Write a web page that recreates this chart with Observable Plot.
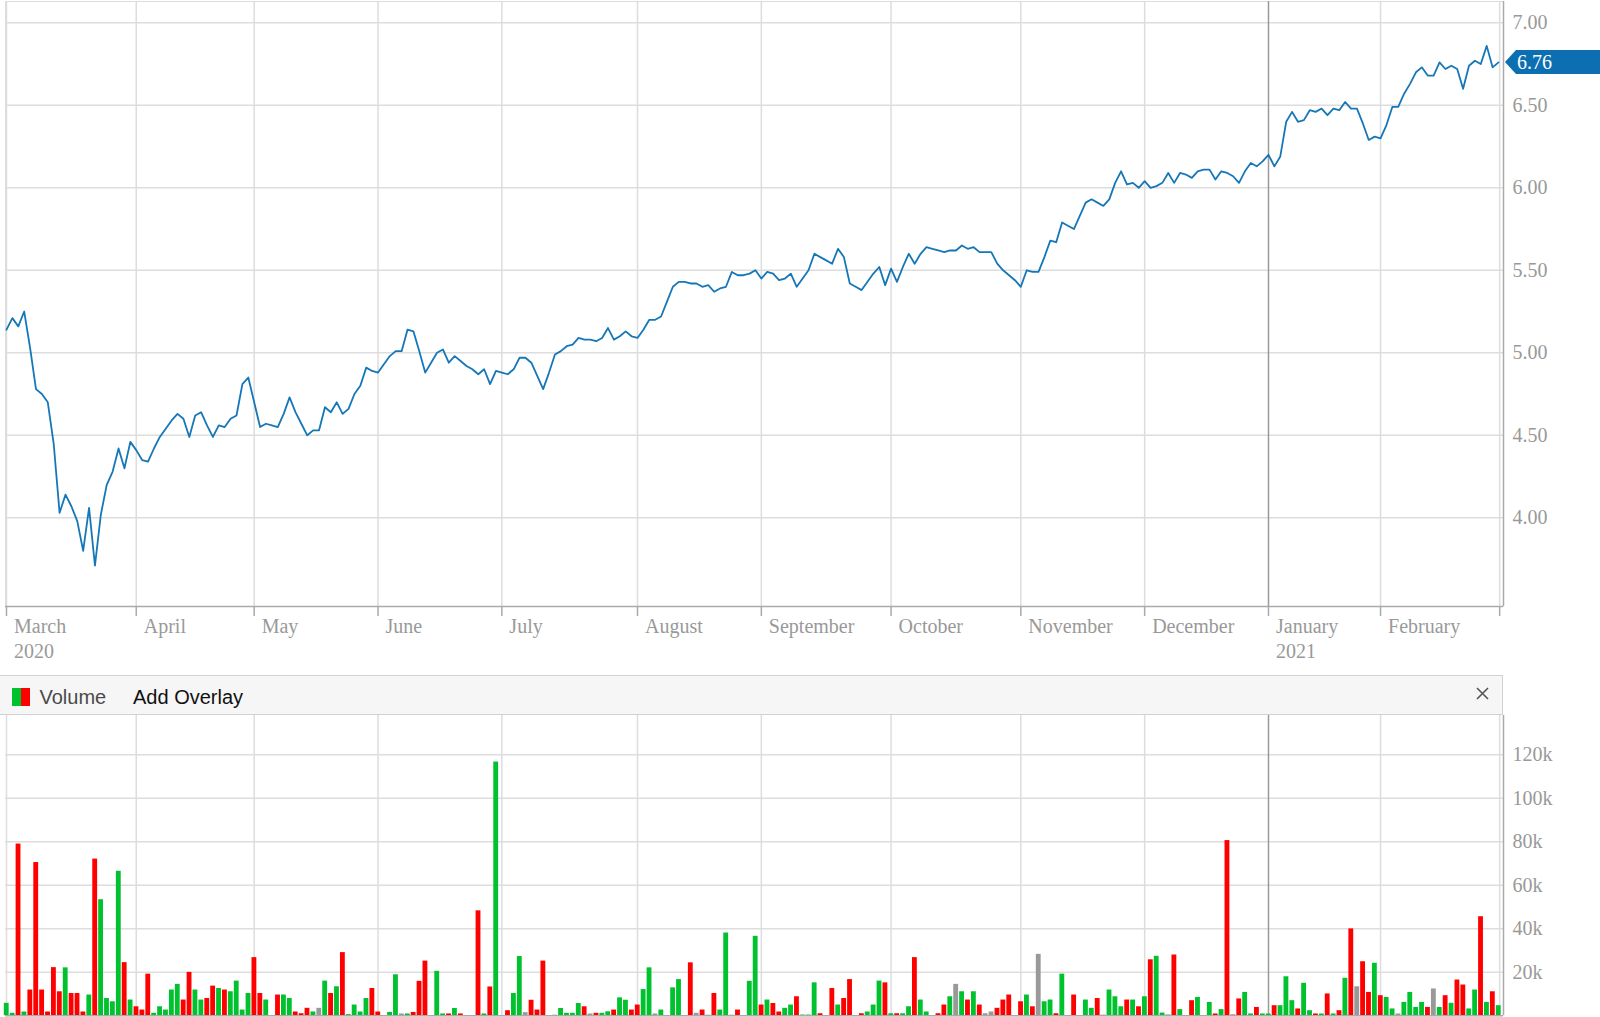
<!DOCTYPE html>
<html>
<head>
<meta charset="utf-8">
<script src="https://cdn.jsdelivr.net/npm/d3@7"></script>
<script src="https://cdn.jsdelivr.net/npm/@observablehq/plot@0.6"></script>
<style>
html, body { margin: 0; padding: 0; background: #fff; overflow: hidden; }
#wrap { position: relative; width: 1600px; height: 1017px; }
#wrap svg { display: block; }
#hdr { position: relative; width: 1502px; height: 38px; background: #f6f6f6;
  border-top: 1px solid #d2d2d2; border-bottom: 1px solid #d2d2d2; border-right: 1px solid #d2d2d2;
  font-family: "Liberation Sans", Arial, sans-serif; font-size: 20px; }
#hdr .ico { position: absolute; left: 12px; top: 12px; width: 18px; height: 18px; display: flex; }
#hdr .ico span { display: block; width: 9px; height: 18px; }
#hdr .lab { position: absolute; top: 11px; line-height: 20px; white-space: nowrap; }
#hdr svg.close { position: absolute; left: 1476px; top: 11px; }
</style>
</head>
<body>
<div id="wrap">
  <div id="top"></div>
  <div id="hdr">
    <div class="ico"><span style="background:#00c12e"></span><span style="background:#ff0000"></span></div>
    <span class="lab" style="left:39.5px;color:#4a4a4a">Volume</span>
    <span class="lab" style="left:133px;color:#111">Add Overlay</span>
    <svg class="close" width="13" height="13" viewBox="0 0 13 13"><path d="M1,1L12,12M12,1L1,12" stroke="#555" stroke-width="1.6" fill="none"/></svg>
  </div>
  <div id="vol"></div>
</div>
<script>
// ---------- DATA ----------
// daily closing prices, one per trading day (Mar 2020 - Feb 2021)
const price = [
  5.14,5.21,5.16,5.25,5.03,4.78,4.75,4.70,4.45,4.03,
  4.14,4.07,3.98,3.80,4.06,3.71,4.02,4.20,4.28,4.42,
  4.30,4.46,4.41,4.35,4.34,4.42,4.49,4.54,4.59,4.63,
  4.60,4.49,4.62,4.64,4.56,4.49,4.56,4.55,4.60,4.62,
  4.81,4.85,4.70,4.55,4.57,4.56,4.55,4.63,4.73,4.64,
  4.57,4.50,4.53,4.53,4.67,4.64,4.70,4.63,4.66,4.75,
  4.80,4.91,4.89,4.88,4.93,4.98,5.01,5.01,5.14,5.13,
  5.01,4.88,4.94,5.00,5.02,4.94,4.98,4.95,4.92,4.90,
  4.87,4.90,4.81,4.89,4.88,4.87,4.90,4.97,4.97,4.94,
  4.86,4.78,4.88,4.99,5.01,5.04,5.05,5.09,5.08,5.08,
  5.07,5.09,5.15,5.08,5.10,5.13,5.10,5.09,5.14,5.20,
  5.20,5.22,5.31,5.40,5.43,5.43,5.42,5.42,5.40,5.41,
  5.37,5.39,5.40,5.49,5.47,5.47,5.48,5.50,5.45,5.49,
  5.48,5.44,5.45,5.48,5.40,5.45,5.50,5.60,5.58,5.56,
  5.54,5.63,5.58,5.42,5.40,5.38,5.43,5.48,5.52,5.41,
  5.51,5.43,5.52,5.60,5.54,5.60,5.64,5.63,5.62,5.61,
  5.62,5.62,5.65,5.63,5.64,5.61,5.61,5.61,5.54,5.50,
  5.47,5.44,5.40,5.50,5.49,5.49,5.58,5.68,5.67,5.79,
  5.77,5.75,5.83,5.91,5.93,5.91,5.89,5.93,6.03,6.10,
  6.02,6.03,6.00,6.04,6.00,6.01,6.03,6.09,6.03,6.09,
  6.08,6.06,6.10,6.11,6.11,6.05,6.10,6.09,6.07,6.03,
  6.10,6.15,6.13,6.16,6.20,6.13,6.19,6.40,6.46,6.40,
  6.41,6.47,6.46,6.48,6.44,6.48,6.47,6.52,6.48,6.48,
  6.39,6.29,6.31,6.30,6.38,6.49,6.49,6.57,6.63,6.70,
  6.73,6.68,6.68,6.76,6.72,6.74,6.72,6.60,6.74,6.77,
  6.75,6.86,6.73,6.76
];
// daily volume in thousands
const volumeK = [
  5.7,1.1,78.9,1.7,11.8,70.4,11.8,1.7,22.1,11.0,
  22.0,10.2,10.2,1.7,9.5,72.0,53.3,7.9,6.4,66.4,
  24.4,7.2,4.1,2.6,19.1,1.1,4.1,2.6,11.8,14.4,
  7.2,19.9,11.8,7.2,7.9,13.6,12.5,11.8,11.0,15.9,
  2.6,10.2,26.7,10.2,7.2,0,9.5,9.5,7.9,1.7,
  0.9,3.4,1.7,3.4,15.9,10.2,13.3,29.0,0.5,4.9,
  1.7,7.9,12.5,1.7,0,1.5,18.8,0.8,0.8,1.5,
  15.8,25.1,0,20.4,0.8,0.8,3.3,0.8,0,0,
  48.2,0.8,13.2,116.6,0,2.3,10.2,27.2,1.4,7.1,
  2.6,25.1,0,0.2,3.3,1.1,1.1,5.6,4.1,0.8,
  1.1,1.1,1.8,2.6,8.2,7.1,2.6,4.9,12.0,22.0,
  0.8,2.6,0,12.8,16.6,0,24.3,1.1,2.6,0.2,
  10.2,2.6,38.0,0.2,2.6,0,15.8,36.5,4.9,7.2,
  5.6,1.7,3.4,4.9,8.7,0.3,0.3,15.1,0.9,0,
  12.5,4.9,7.9,16.6,0,0.9,1.7,4.9,15.9,15.1,
  0.9,0.9,0.9,4.1,26.7,7.2,1.7,0,0.9,4.9,
  8.7,14.4,11.0,7.2,11.0,4.9,0.9,1.7,3.4,7.2,
  9.5,0,6.4,9.5,4.1,28.2,6.4,7.2,0.9,19.1,
  0,9.5,0,7.2,3.4,7.9,0.2,11.8,8.7,4.1,
  7.2,7.2,4.1,8.7,25.7,27.3,1.2,0.3,27.9,2.8,
  0,6.9,8.4,0,6.1,0.8,2.8,80.5,0.3,7.7,
  10.7,0.8,3.8,0.8,0.8,4.6,4.6,17.9,6.9,3.1,
  14.9,2.3,0.8,0.8,10.0,0.8,2.3,17.2,39.9,13.3,
  24.8,10.7,24.1,9.2,8.4,3.1,0.8,6.1,10.7,3.8,
  6.1,3.8,12.3,3.8,9.2,5.7,16.4,14.1,3.1,11.8,
  45.5,6.1,11.0,4.6
];
// bar direction: u = up (green), d = down (red), n = unchanged (gray)
const direction = [
  "u","u","d","u","d","d","d","d","d","d",
  "u","d","d","d","u","d","u","u","u","u",
  "d","u","d","d","d","u","u","u","u","u",
  "d","d","u","u","d","d","u","d","u","u",
  "u","u","d","d","u","n","d","u","u","d",
  "d","d","u","n","u","d","u","d","u","u",
  "u","u","d","d","n","u","u","n","u","d",
  "d","d","n","u","u","d","u","d","n","n",
  "d","u","d","u","n","d","u","u","n","d",
  "d","d","n","u","u","u","u","u","d","n",
  "d","u","u","d","u","u","d","d","u","u",
  "n","u","n","u","u","n","d","n","d","u",
  "d","u","u","u","d","n","u","u","d","u",
  "d","d","u","u","d","u","u","u","d","n",
  "d","u","d","d","n","d","u","u","u","d",
  "u","d","u","u","d","u","u","n","d","d",
  "u","n","u","d","u","d","n","n","d","d",
  "d","n","d","u","d","n","u","u","d","u",
  "n","d","n","u","u","d","d","u","u","u",
  "d","u","d","u","d","u","u","u","d","u",
  "n","d","u","n","u","d","u","d","d","d",
  "u","u","d","u","u","d","u","u","u","d",
  "u","u","d","u","d","u","d","u","d","n",
  "d","d","u","d","u","u","n","u","u","u",
  "u","d","n","u","d","u","d","d","u","u",
  "d","u","d","u"
];
const monthNames = ["March","April","May","June","July","August","September","October","November","December","January","February"];
const yearLabels = ["2020","","","","","","","","","","2021",""];
const monthStart = [0,22,42,63,84,107,128,150,172,193,214,233];
const endLine = [253.2];
const priceTicks = [4.00,4.50,5.00,5.50,6.00,6.50,7.00];
const volumeTicksK = [20,40,60,80,100,120];

// ---------- CHART ----------
const W = 1600;
const idx = d3.range(price.length);
const xDomain = [-0.17, 253.85];
const priceDomain = [3.4624, 7.129];
const volDomain = [0, 138.0];
const gridCol = "#dddddd", darkCol = "#9a9a9a", borderCol = "#aaaaaa", textCol = "#999999";
const serif = "'Liberation Serif', 'Times New Roman', serif";

const labelMap = new Map(monthStart.map((m, i) => [m, yearLabels[i] ? monthNames[i] + "\n" + yearLabels[i] : monthNames[i]]));
const lightGrid = monthStart.filter((m, i) => !(yearLabels[i] && i > 0)).concat(endLine);
const darkGrid = monthStart.filter((m, i) => yearLabels[i] && i > 0);
const allTicks = monthStart.concat(endLine);

const topChart = Plot.plot({
  width: W, height: 675,
  marginLeft: 5, marginRight: 97, marginTop: 1, marginBottom: 69,
  style: { fontFamily: serif, fontSize: "20px", background: "white", overflow: "visible" },
  x: { domain: xDomain, axis: null },
  y: { domain: priceDomain, axis: null },
  marks: [
    Plot.frame({ stroke: gridCol, strokeWidth: 1 }),
    Plot.gridY(priceTicks, { stroke: gridCol, strokeOpacity: 1, strokeWidth: 1.5 }),
    Plot.ruleX(lightGrid, { stroke: gridCol, strokeWidth: 1.5 }),
    Plot.ruleX(darkGrid, { stroke: darkCol, strokeWidth: 1.5 }),
    Plot.ruleY([priceDomain[0]], { stroke: borderCol, strokeWidth: 1.5 }),
    Plot.ruleX([xDomain[1]], { stroke: borderCol, strokeWidth: 1.5 }),
    Plot.axisY(priceTicks, { anchor: "right", tickSize: 0, tickPadding: 9, tickFormat: d3.format(".2f"),
      fontSize: 20, fill: textCol }),
    // tick marks below the axis line
    Plot.axisX(allTicks, { anchor: "bottom", tickSize: 10, stroke: borderCol, strokeWidth: 1.5,
      tickFormat: () => "" }),
    // month / year labels
    Plot.axisX(monthStart, { anchor: "bottom", tickSize: 0, tickPadding: 8,
      tickFormat: d => labelMap.get(d) ?? "", textAnchor: "start", dx: 7.5, lineAnchor: "top",
      lineHeight: 1.28, fontSize: 20, fill: textCol }),
    Plot.line(idx, { x: i => i, y: i => price[i], stroke: "#1677b8", strokeWidth: 1.8 })
  ]
});
document.getElementById("top").appendChild(topChart);

// last-price tag
{
  const last = price[price.length - 1];
  const ty = topChart.scale("y").apply(last);
  const tx = topChart.scale("x").range[1];
  const g = d3.select(topChart).append("g");
  g.append("path")
    .attr("d", `M${tx + 2},${ty} L${tx + 13},${ty - 12} L${W},${ty - 12} L${W},${ty + 12} L${tx + 13},${ty + 12} Z`)
    .attr("fill", "#0b6fb1");
  g.append("text").attr("x", tx + 14).attr("y", ty).attr("dy", "0.34em")
    .attr("text-anchor", "start")
    .attr("fill", "white").attr("font-family", serif).attr("font-size", 20)
    .text(d3.format(".2f")(last));
}

const volChart = Plot.plot({
  width: W, height: 302,
  marginLeft: 5, marginRight: 97, marginTop: 0, marginBottom: 1.8,
  style: { fontFamily: serif, fontSize: "20px", background: "white", overflow: "visible" },
  x: { domain: xDomain, axis: null },
  y: { domain: volDomain, axis: null },
  color: { domain: ["u", "d", "n"], range: ["#00c12e", "#ff0000", "#999999"] },
  marks: [
    Plot.gridY(volumeTicksK, { stroke: gridCol, strokeOpacity: 1, strokeWidth: 1.5 }),
    Plot.ruleX(lightGrid, { stroke: gridCol, strokeWidth: 1.5 }),
    Plot.ruleX(darkGrid, { stroke: darkCol, strokeWidth: 1.5 }),
    Plot.rect(idx, { x1: i => i - 0.37, x2: i => i + 0.45, y1: () => 0, y2: i => volumeK[i],
      fill: i => direction[i] }),
    Plot.ruleY([volDomain[0]], { stroke: borderCol, strokeWidth: 1.5 }),
    Plot.ruleX([xDomain[1]], { stroke: borderCol, strokeWidth: 1.5 }),
    Plot.axisY(volumeTicksK, { anchor: "right", tickSize: 0, tickPadding: 9, tickFormat: d => d + "k",
      fontSize: 20, fill: textCol })
  ]
});
document.getElementById("vol").appendChild(volChart);
</script>
</body>
</html>
